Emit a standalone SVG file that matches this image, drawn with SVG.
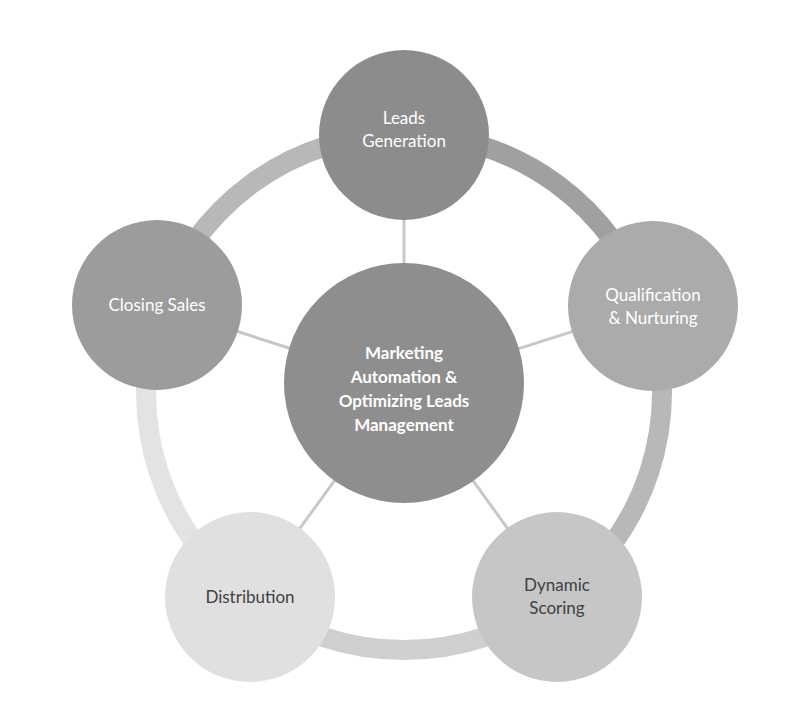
<svg xmlns="http://www.w3.org/2000/svg" width="790" height="720" viewBox="0 0 790 720">
<style>
.arc{fill:none;stroke-width:20}
.sp{stroke:#c8c8c8;stroke-width:3}
text{font-family:Lato,"Liberation Sans",sans-serif;font-size:17px;text-anchor:middle}
.w{fill:#ffffff}.d{fill:#404040}
</style>
<rect width="790" height="720" fill="#ffffff"/>
<g id="connectors">
<path class="arc" stroke="#a0a0a0" d="M404,134 A258,258 0 0 1 649.4,312.3"/>
<path class="arc" stroke="#b8b8b8" d="M649.4,312.3 A258,258 0 0 1 555.6,600.7"/>
<path class="arc" stroke="#cfcfcf" d="M555.6,600.7 A258,258 0 0 1 252.4,600.7"/>
<path class="arc" stroke="#e3e3e3" d="M252.4,600.7 A258,258 0 0 1 158.6,312.3"/>
<path class="arc" stroke="#b8b8b8" d="M158.6,312.3 A258,258 0 0 1 404,134"/>
<line class="sp" x1="404" y1="385" x2="404" y2="135"/>
<line class="sp" x1="404" y1="385" x2="653" y2="306"/>
<line class="sp" x1="404" y1="385" x2="557" y2="597"/>
<line class="sp" x1="404" y1="385" x2="250" y2="597"/>
<line class="sp" x1="404" y1="385" x2="155" y2="305"/>
</g>
<g id="center"><circle cx="404" cy="383" r="120" fill="#8e8e8e"/>
<text class="w" font-weight="bold" x="404" y="359">Marketing</text>
<text class="w" font-weight="bold" x="404" y="383">Automation &amp;</text>
<text class="w" font-weight="bold" x="404" y="407">Optimizing Leads</text>
<text class="w" font-weight="bold" x="404" y="431">Management</text></g>
<g id="leads"><circle cx="404" cy="135" r="85" fill="#8c8c8c"/>
<text class="w" x="404" y="124">Leads</text><text class="w" x="404" y="147">Generation</text></g>
<g id="qual"><circle cx="653" cy="306" r="85" fill="#ababab"/>
<text class="w" x="653" y="301">Qualification</text><text class="w" x="653" y="324">&amp; Nurturing</text></g>
<g id="dyn"><circle cx="557" cy="597" r="85" fill="#c6c6c6"/>
<text class="d" x="557" y="591">Dynamic</text><text class="d" x="557" y="614">Scoring</text></g>
<g id="dist"><circle cx="250" cy="597" r="85" fill="#e0e0e0"/>
<text class="d" x="250" y="603">Distribution</text></g>
<g id="closing"><circle cx="157" cy="305" r="85" fill="#9c9c9c"/>
<text class="w" x="157" y="311">Closing Sales</text></g>
</svg>
